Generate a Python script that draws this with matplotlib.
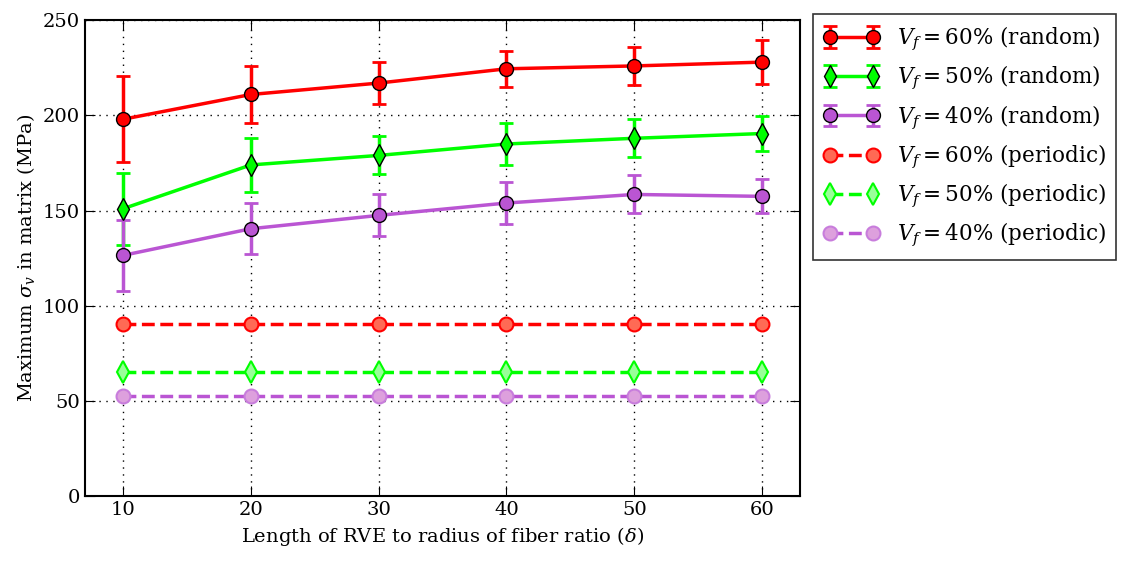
import numpy as np
import matplotlib
matplotlib.use("Agg")
import matplotlib.pyplot as plt

plt.rcParams['font.family'] = ['DejaVu Serif']
plt.rcParams['mathtext.fontset'] = 'dejavuserif'

delta = [10, 20, 30, 40, 50, 60]

# random RVEs: mean and error of max von Mises stress (MPa)
rand60 = [198, 211, 217, 224.5, 226, 228]
rand60_err = [22.5, 15, 11, 9.5, 10, 11.5]
rand50 = [151, 174, 179, 185, 188, 190.5]
rand50_err = [19, 14, 10, 11, 10, 9]
rand40 = [126.5, 140.5, 147.5, 154, 158.5, 157.5]
rand40_err = [18.5, 13.5, 11, 11, 10, 9]

# periodic RVEs
per60 = [90.5] * 6
per50 = [65.5] * 6
per40 = [52.5] * 6

red = '#ff0000'
green = '#00ff00'
purple = '#ba55d3'

fig = plt.figure(figsize=(11.29, 5.62), dpi=100)
ax = fig.add_axes([0.075, 0.117, 0.634, 0.847])

h1 = ax.errorbar(delta, rand60, yerr=rand60_err, color=red, lw=2.5, marker='o', ms=10,
                 mfc=red, mec='k', capsize=5, capthick=2, elinewidth=2.5,
                 label=r'$V_f = 60\%$ (random)')
h2 = ax.errorbar(delta, rand50, yerr=rand50_err, color=green, lw=2.5, marker='d', ms=11,
                 mfc=green, mec='k', capsize=5, capthick=2, elinewidth=2.5,
                 label=r'$V_f = 50\%$ (random)')
h3 = ax.errorbar(delta, rand40, yerr=rand40_err, color=purple, lw=2.5, marker='o', ms=10,
                 mfc=purple, mec='k', capsize=5, capthick=2, elinewidth=2.5,
                 label=r'$V_f = 40\%$ (random)')
h4, = ax.plot(delta, per60, '--', color=red, lw=2.5, marker='o', ms=10,
              mfc='#ff6a55', mec=red, mew=1.5, label=r'$V_f = 60\%$ (periodic)')
h5, = ax.plot(delta, per50, '--', color=green, lw=2.5, marker='d', ms=11,
              mfc='#99ff99', mec=green, mew=1.5, label=r'$V_f = 50\%$ (periodic)')
h6, = ax.plot(delta, per40, '--', color=purple, lw=2.5, marker='o', ms=10,
              mfc='#dda0dd', mec='#c87ddc', mew=1.5, label=r'$V_f = 40\%$ (periodic)')

ax.set_xlim(7, 63)
ax.set_ylim(0, 250)
ax.set_xticks(delta)
ax.set_yticks([0, 50, 100, 150, 200, 250])
ax.tick_params(direction='in', top=True, right=True, length=7, labelsize=14)
ax.grid(True, color='k', linestyle=(0, (1, 4)), lw=1)
for s in ax.spines.values():
    s.set_linewidth(1.5)

ax.set_xlabel(r'Length of RVE to radius of fiber ratio ($\delta$)', fontsize=14)
ax.set_ylabel(r'Maximum $\sigma_v$ in matrix (MPa)', fontsize=14)

handles = [h1, h2, h3, h4, h5, h6]
leg = fig.legend(handles, [h.get_label() for h in handles],
                 loc='upper left', bbox_to_anchor=(0.72, 0.975), fontsize=15.5,
                 fancybox=False, edgecolor='k', numpoints=2, handlelength=2.6,
                 labelspacing=0.52, borderpad=0.5, borderaxespad=0)
leg.get_frame().set_linewidth(1.2)

fig.savefig('out.png', dpi=100)
